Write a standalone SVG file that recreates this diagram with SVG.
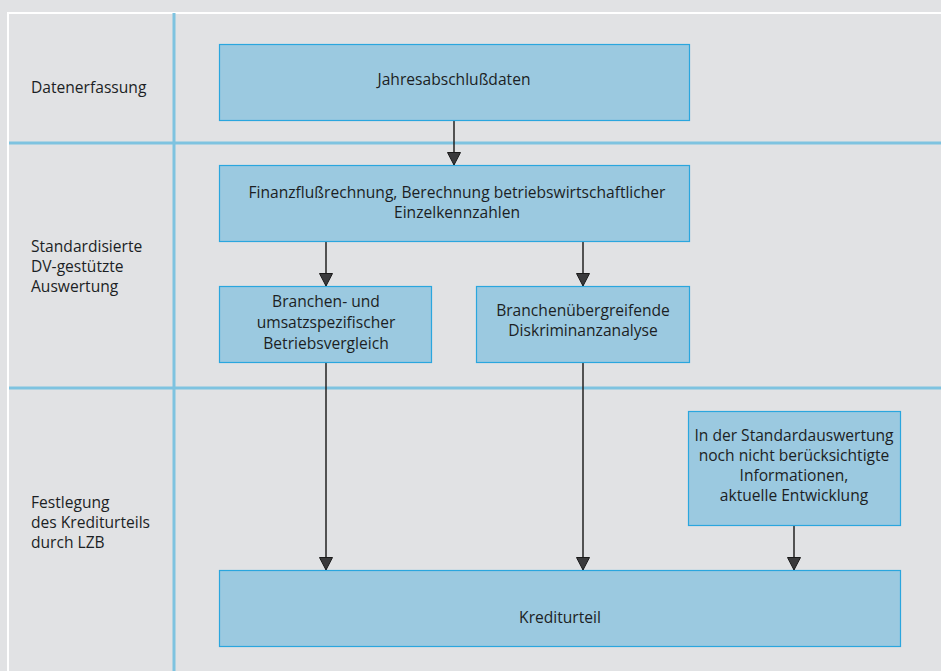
<svg xmlns="http://www.w3.org/2000/svg" width="941" height="671" viewBox="0 0 941 671">
<defs>
<style>
.bg{fill:#e1e2e4}
.sep{stroke:#7ec3e0;stroke-width:3;fill:none}
.box{fill:#9bc9e0;stroke:#2aa6de;stroke-width:1.2}
.t{font-family:"Open Sans","Noto Sans",sans-serif;font-size:15.6px;fill:#1c1f24}
.c{text-anchor:middle}
.ln{stroke:#222;stroke-width:1.5;fill:none}
</style>
<marker id="ah" markerUnits="userSpaceOnUse" markerWidth="14" markerHeight="15" refX="13" refY="7" orient="auto" viewBox="0 0 14 14">
<path d="M0.5,0.5 L13,7 L0.5,13.5 Z" fill="#3a3a3c" stroke="#1a1a1a" stroke-width="1"/>
</marker>
</defs>
<rect class="bg" x="0" y="0" width="941" height="671"/>
<path d="M8,671 V13 H941" stroke="#ffffff" stroke-width="2" fill="none"/>
<g id="lanes">
<path class="sep" d="M174,13 V671"/>
<path class="sep" d="M9,143 H941"/>
<path class="sep" d="M9,388 H941"/>
<text class="t" x="31" y="93">Datenerfassung</text>
<text class="t" x="31" y="252">Standardisierte</text>
<text class="t" x="31" y="272">DV-gestützte</text>
<text class="t" x="31" y="292">Auswertung</text>
<text class="t" x="31" y="508">Festlegung</text>
<text class="t" x="31" y="528">des Krediturteils</text>
<text class="t" x="31" y="548">durch LZB</text>
</g>
<g id="connectors">
<path class="ln" d="M454,120 V165" marker-end="url(#ah)"/>
<path class="ln" d="M326,241 V286" marker-end="url(#ah)"/>
<path class="ln" d="M583,241 V286" marker-end="url(#ah)"/>
<path class="ln" d="M326,362 V570" marker-end="url(#ah)"/>
<path class="ln" d="M583,362 V570" marker-end="url(#ah)"/>
<path class="ln" d="M794,525 V570" marker-end="url(#ah)"/>
</g>
<g id="n1">
<rect class="box" x="219.5" y="44.5" width="470" height="76"/>
<text class="t c" x="454" y="85">Jahresabschlußdaten</text>
</g>
<g id="n2">
<rect class="box" x="219.5" y="165.5" width="470" height="76"/>
<text class="t c" x="457" y="198">Finanzflußrechnung, Berechnung betriebswirtschaftlicher</text>
<text class="t c" x="457" y="218">Einzelkennzahlen</text>
</g>
<g id="n3">
<rect class="box" x="219.5" y="286.5" width="212" height="76"/>
<text class="t c" x="326" y="307">Branchen- und</text>
<text class="t c" x="326" y="328">umsatzspezifischer</text>
<text class="t c" x="326" y="349">Betriebsvergleich</text>
</g>
<g id="n4">
<rect class="box" x="476.5" y="286.5" width="213" height="76"/>
<text class="t c" x="583" y="316">Branchenübergreifende</text>
<text class="t c" x="583" y="336">Diskriminanzanalyse</text>
</g>
<g id="n5">
<rect class="box" x="688.5" y="411.5" width="212" height="114"/>
<text class="t c" x="794" y="441">In der Standardauswertung</text>
<text class="t c" x="794" y="461">noch nicht berücksichtigte</text>
<text class="t c" x="794" y="481">Informationen,</text>
<text class="t c" x="794" y="501">aktuelle Entwicklung</text>
</g>
<g id="n6">
<rect class="box" x="219.5" y="570.5" width="681" height="76"/>
<text class="t c" x="560" y="623">Krediturteil</text>
</g>
</svg>
